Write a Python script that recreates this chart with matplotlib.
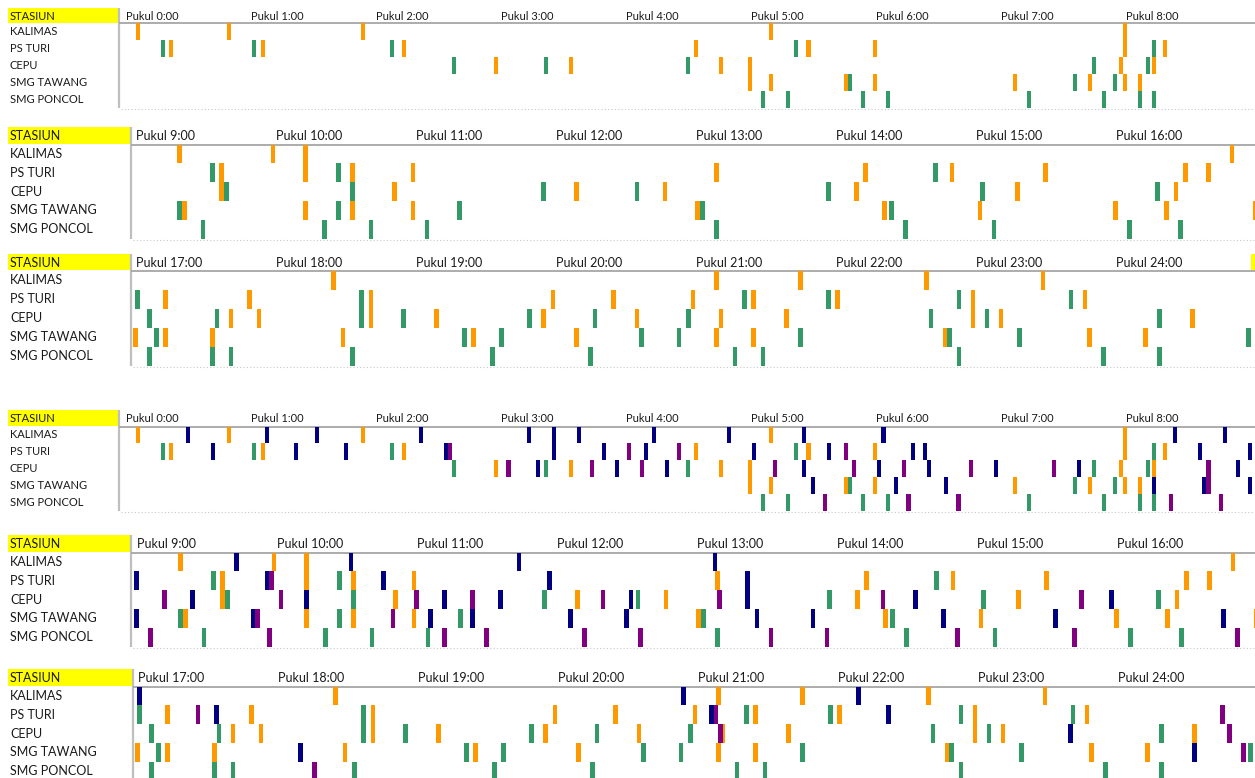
import matplotlib
matplotlib.use("Agg")
import matplotlib.pyplot as plt
from matplotlib.patches import Rectangle

W, H, DPI = 1255, 778, 100
plt.rcParams["font.family"] = ["Lato", "DejaVu Sans"]

stations = ["KALIMAS", "PS TURI", "CEPU", "SMG TAWANG", "SMG PONCOL"]

# Departure minutes after 0:00 for each station, per train group
orange = {
    "KALIMAS": [6, 50, 114, 310, 480, 559, 599, 613, 1010, 1105, 1269, 1305, 1359, 1409],
    "PS TURI": [22, 66, 134, 274, 328, 360, 480, 499, 577, 613, 633, 659, 789, 853, 890,
                930, 990, 1000, 1033, 1069, 1121, 1199, 1225, 1259, 1285, 1321, 1379, 1427],
    "CEPU": [178, 214, 286, 300, 478, 494, 577, 651, 729, 767, 849, 918, 986, 1061, 1073,
             1121, 1149, 1195, 1235, 1271, 1299, 1379, 1391, 1473],
    "SMG TAWANG": [300, 310, 346, 360, 427, 463, 480, 487, 561, 613, 633, 659, 781, 861,
                   902, 960, 982, 1020, 1033, 1053, 1109, 1165, 1209, 1269, 1285, 1367,
                   1429, 1453],
    "SMG PONCOL": [],
}
green = {
    "KALIMAS": [],
    "PS TURI": [18, 62, 128, 322, 494, 573, 627, 883, 1021, 1117, 1281, 1317, 1373, 1421],
    "CEPU": [158, 202, 270, 465, 491, 579, 633, 715, 755, 837, 903, 978, 1026, 1055, 1117,
             1135, 1189, 1217, 1257, 1361, 1385, 1459],
    "SMG TAWANG": [348, 456, 475, 559, 627, 679, 783, 864, 1029, 1161, 1177, 1237, 1253,
                   1305, 1369, 1399, 1497],
    "SMG PONCOL": [306, 318, 354, 366, 434, 470, 487, 494, 569, 621, 641, 665, 789, 870,
                   908, 966, 988, 1026, 1053, 1061, 1113, 1173, 1215, 1277, 1289, 1373,
                   1435, 1459],
}
navy = {
    "KALIMAS": [30, 68, 92, 142, 194, 206, 218, 254, 290, 326, 364, 504, 528, 583, 632,
                704, 788, 1021, 1254, 1329],
    "PS TURI": [42, 82, 106, 154, 206, 230, 250, 302, 338, 378, 384, 516, 540, 596, 646,
                717, 802, 1054, 1266, 1342],
    "CEPU": [198, 236, 260, 326, 362, 386, 418, 458, 534, 564, 613, 672, 696, 752, 802,
             874, 958, 1420],
    "SMG TAWANG": [330, 370, 394, 494, 518, 540, 590, 666, 684, 726, 750, 806, 830, 886,
                   934, 1006, 1090, 1473],
    "SMG PONCOL": [],
}
purple = {
    "KALIMAS": [],
    "PS TURI": [156, 242, 266, 346, 598, 1046, 1268, 1485],
    "CEPU": [184, 224, 248, 312, 350, 374, 406, 446, 520, 552, 602, 660, 684, 740, 790,
             860, 945, 1270, 1488],
    "SMG TAWANG": [520, 592, 650, 1494],
    "SMG PONCOL": [336, 376, 400, 502, 526, 546, 597, 672, 690, 732, 756, 812, 836, 892,
                   942, 1012, 1096],
}

COLORS = [(orange, "#FF9900"), (green, "#339966"), (navy, "#000080"), (purple, "#800080")]

# panel geometry in pixels: separator x, header top, header line, bottom,
# first hour, x of first hour, pixels per hour, font size, series groups
panels = [
    dict(sep=119, top=8, line=23, bot=107.5, h0=0, x0=123, pph=125, fs=8.0, groups=2),
    dict(sep=131, top=127, line=144.5, bot=238.5, h0=9, x0=133, pph=140, fs=9.0, groups=2),
    dict(sep=131, top=254, line=270.5, bot=365.5, h0=17, x0=133, pph=140, fs=9.0, groups=2),
    dict(sep=119, top=410, line=426.5, bot=510.5, h0=0, x0=123, pph=125, fs=8.0, groups=4),
    dict(sep=131, top=535, line=552.5, bot=646.5, h0=9, x0=134, pph=140, fs=9.0, groups=4),
    dict(sep=133, top=669, line=686.5, bot=780.5, h0=17, x0=135, pph=140, fs=9.0, groups=4),
]

fig = plt.figure(figsize=(W / DPI, H / DPI), dpi=DPI)
fig.patch.set_facecolor("white")

over = fig.add_axes([0, 0, 1, 1])
over.set_xlim(0, W)
over.set_ylim(H, 0)
over.axis("off")

for p in panels:
    sep, top, line, bot = p["sep"], p["top"], p["line"], p["bot"]
    t0 = p["h0"] * 60
    m_per_px = 60.0 / p["pph"]
    xmin = t0 + (sep - p["x0"]) * m_per_px
    xmax = t0 + (W - p["x0"]) * m_per_px

    ax = fig.add_axes([sep / W, 1 - bot / H, (W - sep) / W, (bot - line) / H])
    ax.set_xlim(xmin, xmax)
    ax.set_ylim(5, 0)
    ax.axis("off")
    for series, col in COLORS[:p["groups"]]:
        for i, st in enumerate(stations):
            xs = [m for m in series[st] if xmin - 2 <= m <= xmax]
            if xs:
                ax.bar(xs, 1, width=2, bottom=i, align="edge", color=col,
                       edgecolor="none", linewidth=0)

    # header cell
    over.add_patch(Rectangle((8, top), sep - 8, line - top - 0.5,
                             facecolor="#FFFF00", edgecolor="none"))
    over.text(10, (top + line) / 2 + 0.5, "STASIUN", fontsize=p["fs"],
              va="center", ha="left", color="#1a1a1a")
    nh = 9 if p["h0"] == 0 else 8
    for k in range(nh):
        hx = p["x0"] + k * p["pph"] + 3
        over.text(hx, (top + line) / 2 + 0.5, f"Pukul {p['h0'] + k}:00",
                  fontsize=p["fs"], va="center", ha="left", color="#1a1a1a")
    if p["h0"] == 17 and p["groups"] == 2:
        # start of the next header cell, visible at the right edge
        over.add_patch(Rectangle((1251, top), 4, line - top - 0.5,
                                 facecolor="#FFFF00", edgecolor="none"))

    # station names
    rh = (bot - line) / 5
    for i, st in enumerate(stations):
        over.text(10, line + rh * (i + 0.5), st, fontsize=p["fs"], va="center",
                  ha="left", color="#1a1a1a")

    # grid lines
    over.plot([sep, sep], [top, bot], color="#BFBFBF", lw=1.6, solid_capstyle="butt")
    over.plot([sep, W], [line, line], color="#A6A6A6", lw=1.3, solid_capstyle="butt")
    over.plot([sep + 2, W], [bot + 1, bot + 1], color="#C8C8C8", lw=0.8,
              linestyle=(0, (1, 2)))

fig.savefig("out.png", dpi=DPI, facecolor="white")
